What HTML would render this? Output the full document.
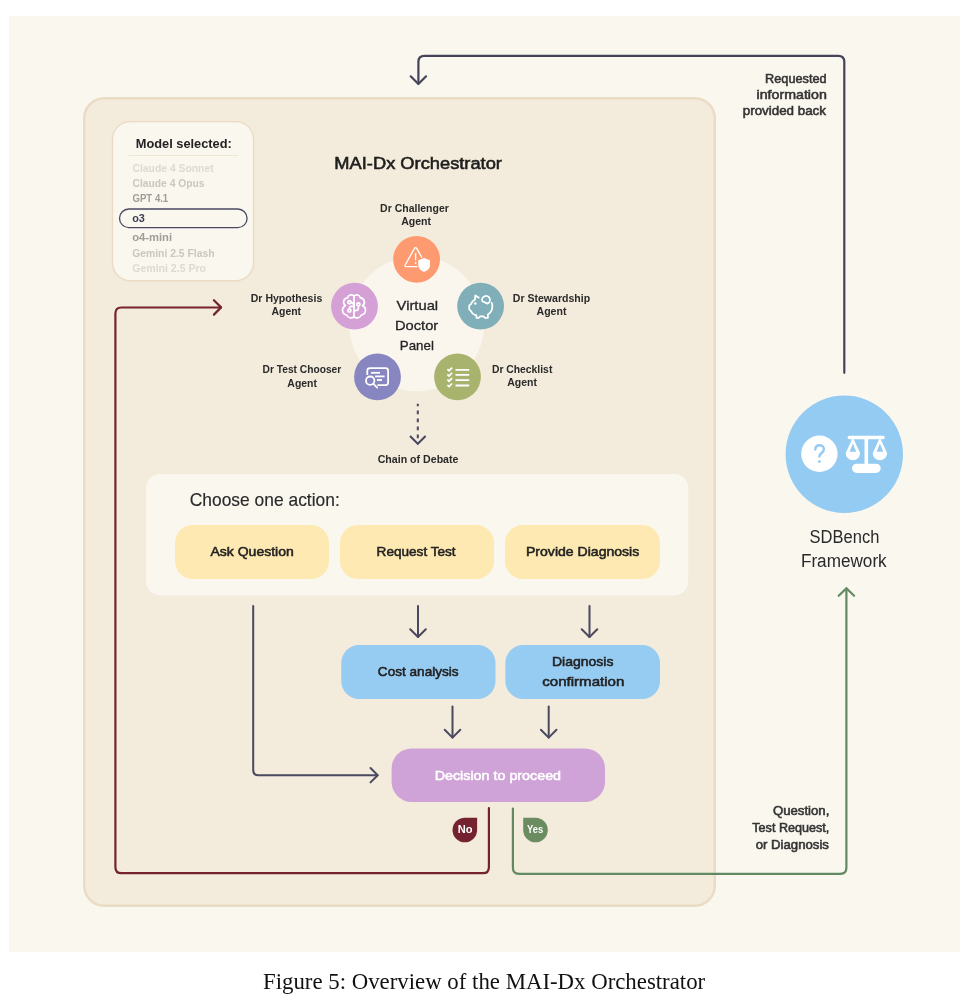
<!DOCTYPE html>
<html>
<head>
<meta charset="utf-8">
<style>
html,body{margin:0;padding:0;background:#ffffff;width:976px;height:1002px;overflow:hidden;}
svg{display:block;will-change:transform;}
.b{font-weight:700;}
.serif{font-family:"Liberation Serif",serif;}
</style>
</head>
<body>
<svg width="976" height="1002" viewBox="0 0 976 1002">
<!-- background -->
<rect x="9" y="16" width="951" height="936" fill="#FAF7EF"/>
<!-- panel -->
<rect x="84.2" y="98.2" width="630.6" height="807.6" rx="20" ry="20" fill="#F3EBDB" stroke="#EADCC4" stroke-width="2.4"/>

<!-- model selected box -->
<rect x="112.5" y="121.6" width="141.1" height="159.1" rx="18" ry="18" fill="#FAF7EF" stroke="#EADCC4" stroke-width="1.4"/>
<line x1="128.8" y1="155.5" x2="238.4" y2="155.5" stroke="#EFE6D6" stroke-width="1"/>
<rect x="119.5" y="209" width="127.6" height="18.6" rx="9.3" ry="9.3" fill="none" stroke="#4A4862" stroke-width="1.3"/>

<!-- title -->

<!-- virtual doctor panel -->
<circle cx="416.7" cy="323.8" r="67.6" fill="#FAF6EE"/>
<circle cx="416.6" cy="259.3" r="23.4" fill="#FE9A70"/>
<circle cx="354.5" cy="306.2" r="23.4" fill="#D4A0D6"/>
<circle cx="480.6" cy="306.1" r="23.4" fill="#80AFBA"/>
<circle cx="377.5" cy="376.9" r="23.4" fill="#8786C0"/>
<circle cx="457.5" cy="376.8" r="23.4" fill="#A8B46E"/>


<!-- icons -->
<circle cx="844.3" cy="454.2" r="58.7" fill="#94CBF2"/>
<circle cx="819.4" cy="453.8" r="18.2" fill="#FFFFFF"/>

<g fill="none" stroke="#FFFFFF" stroke-width="1.35" stroke-linecap="round" stroke-linejoin="round">
<path d="M414.3 248.6 Q415.6 246.6 416.9 248.6 L426 265 Q426.8 266.6 425 266.6 L406.2 266.6 Q404.4 266.6 405.2 265 Z"/>
<path d="M415.6 253.6 V259.8"/>
</g>
<circle cx="415.6" cy="263" r="0.95" fill="#FFFFFF"/>
<path d="M424.1 257.9 L430 260.2 V265 C430 268.6 427.2 270.9 424.1 271.8 C421 270.9 418.3 268.6 418.3 265 V260.2 Z" fill="#FFFFFF" stroke="#FE9A70" stroke-width="2.2" stroke-linejoin="round"/>
<path d="M424.1 257.9 L430 260.2 V265 C430 268.6 427.2 270.9 424.1 271.8 C421 270.9 418.3 268.6 418.3 265 V260.2 Z" fill="#FFFFFF"/>

<g fill="none" stroke="#FFFFFF" stroke-width="1.75" stroke-linecap="round" stroke-linejoin="round">
<path d="M353.99 296.00 A3.63 3.63 0 0 0 347.69 297.99 A4.20 4.20 0 0 0 345.47 305.68 A4.89 4.89 0 0 0 346.61 314.99 A4.95 4.95 0 0 0 353.99 317.05"/>
<path d="M354.01 296.00 A3.63 3.63 0 0 1 360.31 297.99 A4.20 4.20 0 0 1 362.53 305.68 A4.89 4.89 0 0 1 361.39 314.99 A4.95 4.95 0 0 1 354.01 317.05"/>
<path d="M354 296.5 V316.5"/>
<circle cx="349.4" cy="302.2" r="1.55"/>
<path d="M350.9 302.4 Q353.3 302.6 353.8 304.8"/>
<circle cx="349.4" cy="310.6" r="1.55"/>
<path d="M349.4 309.1 V308.4 Q349.4 306.3 351.5 306.3 H353.8"/>
<circle cx="358.4" cy="304.3" r="1.55"/>
<path d="M358.4 305.8 V308 Q358.4 310.5 355.8 310.5 H354.2"/>
</g>

<g fill="none" stroke="#FFFFFF" stroke-width="1.75" stroke-linecap="round" stroke-linejoin="round">
<path d="M478.9 297.7 L475.3 295.4 L474.9 299.6 C473.2 300.6 471.8 302.2 471 304 L469.2 305.6 V309.3 L470.8 310.8 C471.6 312.4 472.8 313.8 474.3 314.6 L476.4 315.4 V317.8 H479 L480.2 316.3 H483.4 L484.7 317.8 H487.9 V314.4 C490.4 312.8 492.1 310.3 492.3 307.2 C492.4 305.3 492.2 303.8 491.7 302.8"/>
<path d="M482.3 301.3 A3.95 3.95 0 1 1 487.5 303.6 Z"/>
</g>
<circle cx="475.3" cy="303.6" r="1.25" fill="#FFFFFF"/>

<g fill="none" stroke="#FFFFFF" stroke-width="1.8" stroke-linecap="butt" stroke-linejoin="round">
<path d="M367.3 375 V370.7 Q367.3 368.2 369.8 368.2 H385.6 Q388.1 368.2 388.1 370.7 V382.6 Q388.1 385.1 385.6 385.1 H377.4"/>
<path d="M371 372.8 H380"/>
<path d="M375.1 376.4 H384.6"/>
<path d="M376.9 380 H382"/>
<circle cx="370.2" cy="380.7" r="4.2"/>
<path d="M373.2 383.7 L377.2 387.7" stroke-linecap="round"/>
</g>

<g fill="none" stroke="#FFFFFF" stroke-width="1.8" stroke-linecap="butt" stroke-linejoin="miter">
<path d="M455.5 369.8 H469.2 M455.5 374.9 H469.2 M455.5 380.1 H469.2 M455.5 385.5 H469.2"/>
<path d="M447.4 369.2 L449 370.8 L452.1 367.7 M447.4 374.4 L449 376 L452.1 372.9 M447.4 379.6 L449 381.2 L452.1 378.1 M447.4 385 L449 386.6 L452.1 383.5" stroke-width="1.7"/>
</g>

<g fill="#94CBF2">
<path d="M815.3 449.6 C815.3 446.9 817.2 445.3 819.6 445.3 C822 445.3 823.9 446.9 823.9 449.3 C823.9 451.2 822.7 452.2 821.3 453.3 C820 454.3 819.4 455.1 819.4 456.6" fill="none" stroke="#94CBF2" stroke-width="2.4" stroke-linecap="round"/>
<circle cx="819.4" cy="461.6" r="1.45"/>
</g>
<g fill="#FFFFFF">
<rect x="847.6" y="435.8" width="37.1" height="3.4" rx="1.7"/>
<rect x="864.5" y="438" width="3.6" height="27"/>
<rect x="852" y="463.7" width="28.7" height="9.2" rx="4.6"/>
<path fill-rule="evenodd" d="M852.9 437.5 L845.7 453.1 A7.2 7.2 0 0 0 860.1 453.1 Z M852.9 443.6 L849.6 451.7 H856.2 Z"/>
<path fill-rule="evenodd" d="M879.9 437.5 L872.7 453.1 A7.2 7.2 0 0 0 887.1 453.1 Z M879.9 443.6 L876.6 451.7 H883.2 Z"/>
</g>

<!-- agent labels -->

<!-- dotted arrow -->
<line x1="417.8" y1="403.7" x2="417.8" y2="439" stroke="#4A4960" stroke-width="2" stroke-dasharray="3.8 4.2" stroke-dashoffset="1.3"/>
<polyline points="410,436 417.8,443.8 425.6,436" fill="none" stroke="#4A4960" stroke-width="2"/>

<!-- choose box -->
<rect x="146.2" y="474" width="542" height="121.4" rx="14" ry="14" fill="#FAF7EF"/>
<rect x="175" y="525" width="154" height="54" rx="18" ry="18" fill="#FDE9B1"/>
<rect x="340" y="525" width="154" height="54" rx="18" ry="18" fill="#FDE9B1"/>
<rect x="505" y="525" width="155" height="54" rx="18" ry="18" fill="#FDE9B1"/>

<!-- blue boxes -->
<rect x="341.3" y="645" width="154.2" height="54" rx="18" ry="18" fill="#96CBF2"/>
<rect x="505.4" y="645" width="154.6" height="54" rx="18" ry="18" fill="#96CBF2"/>

<!-- decision -->
<rect x="391.6" y="748.4" width="213.4" height="53.5" rx="20" ry="20" fill="#CFA3D7"/>

<!-- dark arrows -->
<g fill="none" stroke="#4A4960" stroke-width="2" stroke-linecap="round" stroke-linejoin="round">
<path d="M253.2 606.1 V770 Q253.2 775.2 258.4 775.2 H377.5"/>
<polyline points="370.5,768 377.7,775.2 370.5,782.4"/>
<path d="M418 606.1 V637"/>
<polyline points="410.2,629.2 418,637 425.8,629.2"/>
<path d="M589.5 606.1 V637"/>
<polyline points="581.7,629.2 589.5,637 597.3,629.2"/>
<path d="M452.5 706.5 V737.6"/>
<polyline points="444.7,729.8 452.5,737.6 460.3,729.8"/>
<path d="M548.7 706.5 V737.6"/>
<polyline points="540.9,729.8 548.7,737.6 556.5,729.8"/>
</g>

<!-- top feedback arrow -->
<g fill="none" stroke="#45445A" stroke-width="2.2" stroke-linecap="round" stroke-linejoin="round">
<path d="M844.3 372.8 V61.8 Q844.3 55.8 838.3 55.8 H424.4 Q418.4 55.8 418.4 61.8 V83.5"/>
<polyline points="410.7,76.3 418.4,84 426.1,76.3"/>
</g>

<!-- red no loop -->
<g fill="none" stroke="#74232F" stroke-width="2.2" stroke-linecap="round" stroke-linejoin="round">
<path d="M488.9 808.1 V867.2 Q488.9 873.2 482.9 873.2 H121.4 Q115.4 873.2 115.4 867.2 V313.5 Q115.4 307.5 121.4 307.5 H221"/>
<polyline points="213.9,300.2 221.1,307.4 213.9,314.6"/>
</g>
<!-- green yes loop -->
<g fill="none" stroke="#618A63" stroke-width="2.2" stroke-linecap="round" stroke-linejoin="round">
<path d="M512.9 808.6 V867.8 Q512.9 873.8 518.9 873.8 H840.4 Q846.4 873.8 846.4 867.8 V588.5"/>
<polyline points="838.7,595.8 846.4,588.2 854.1,595.8"/>
</g>

<!-- badges -->
<path d="M477.1 817.7 V830 A12.3 12.3 0 1 1 464.8 817.7 Z" fill="#74222F"/>
<path d="M523.2 817.7 H535.5 A12.3 12.3 0 1 1 523.2 830 Z" fill="#6B8B60"/>

<!-- SDBench -->

<!-- caption -->
<text x="334.35" y="168.7" style='font-family:"Liberation Sans",sans-serif' font-size="17.4" font-weight="400" fill="#1E1E1E" stroke="#1E1E1E" stroke-width="0.6" textLength="167.59" lengthAdjust="spacingAndGlyphs">MAI-Dx Orchestrator</text>
<text x="135.76" y="147.7" style='font-family:"Liberation Sans",sans-serif' font-size="13" font-weight="700" fill="#222222" textLength="96.0" lengthAdjust="spacingAndGlyphs">Model selected:</text>
<text x="132.51" y="171.8" style='font-family:"Liberation Sans",sans-serif' font-size="10.6" font-weight="700" fill="#DEDAD3" textLength="81.09" lengthAdjust="spacingAndGlyphs">Claude 4 Sonnet</text>
<text x="132.51" y="186.9" style='font-family:"Liberation Sans",sans-serif' font-size="10.6" font-weight="700" fill="#CBC7C0" textLength="71.99" lengthAdjust="spacingAndGlyphs">Claude 4 Opus</text>
<text x="132.55" y="202.3" style='font-family:"Liberation Sans",sans-serif' font-size="10.6" font-weight="700" fill="#A09D98" textLength="35.64" lengthAdjust="spacingAndGlyphs">GPT 4.1</text>
<text x="132.19" y="221.9" style='font-family:"Liberation Sans",sans-serif' font-size="10.6" font-weight="700" fill="#3E3C54" textLength="12.7" lengthAdjust="spacingAndGlyphs">o3</text>
<text x="132.17" y="240.7" style='font-family:"Liberation Sans",sans-serif' font-size="10.6" font-weight="700" fill="#A09D98" textLength="39.94" lengthAdjust="spacingAndGlyphs">o4-mini</text>
<text x="132.21" y="256.6" style='font-family:"Liberation Sans",sans-serif' font-size="10.6" font-weight="700" fill="#CBC7C0" textLength="82.38" lengthAdjust="spacingAndGlyphs">Gemini 2.5 Flash</text>
<text x="132.2" y="272.0" style='font-family:"Liberation Sans",sans-serif' font-size="10.6" font-weight="700" fill="#DEDAD3" textLength="73.83" lengthAdjust="spacingAndGlyphs">Gemini 2.5 Pro</text>
<text x="396.57" y="310" style='font-family:"Liberation Sans",sans-serif' font-size="13.6" font-weight="400" fill="#252525" stroke="#252525" stroke-width="0.3" textLength="41.59" lengthAdjust="spacingAndGlyphs">Virtual</text>
<text x="394.92" y="329.75" style='font-family:"Liberation Sans",sans-serif' font-size="13.6" font-weight="400" fill="#252525" stroke="#252525" stroke-width="0.3" textLength="43.33" lengthAdjust="spacingAndGlyphs">Doctor</text>
<text x="399.82" y="349.8" style='font-family:"Liberation Sans",sans-serif' font-size="13.6" font-weight="400" fill="#252525" stroke="#252525" stroke-width="0.3" textLength="34.04" lengthAdjust="spacingAndGlyphs">Panel</text>
<text x="380.14" y="212" style='font-family:"Liberation Sans",sans-serif' font-size="10.4" font-weight="700" fill="#2A2A2A" textLength="68.7" lengthAdjust="spacingAndGlyphs">Dr Challenger</text>
<text x="401.15" y="225" style='font-family:"Liberation Sans",sans-serif' font-size="10.4" font-weight="700" fill="#2A2A2A" textLength="29.89" lengthAdjust="spacingAndGlyphs">Agent</text>
<text x="250.74" y="301.5" style='font-family:"Liberation Sans",sans-serif' font-size="10.4" font-weight="700" fill="#2A2A2A" textLength="71.52" lengthAdjust="spacingAndGlyphs">Dr Hypothesis</text>
<text x="271.55" y="314.6" style='font-family:"Liberation Sans",sans-serif' font-size="10.4" font-weight="700" fill="#2A2A2A" textLength="29.49" lengthAdjust="spacingAndGlyphs">Agent</text>
<text x="512.84" y="301.5" style='font-family:"Liberation Sans",sans-serif' font-size="10.4" font-weight="700" fill="#2A2A2A" textLength="77.24" lengthAdjust="spacingAndGlyphs">Dr Stewardship</text>
<text x="536.55" y="314.5" style='font-family:"Liberation Sans",sans-serif' font-size="10.4" font-weight="700" fill="#2A2A2A" textLength="29.89" lengthAdjust="spacingAndGlyphs">Agent</text>
<text x="262.56" y="373.4" style='font-family:"Liberation Sans",sans-serif' font-size="10.4" font-weight="700" fill="#2A2A2A" textLength="78.7" lengthAdjust="spacingAndGlyphs">Dr Test Chooser</text>
<text x="287.35" y="386.5" style='font-family:"Liberation Sans",sans-serif' font-size="10.4" font-weight="700" fill="#2A2A2A" textLength="29.59" lengthAdjust="spacingAndGlyphs">Agent</text>
<text x="491.95" y="373.4" style='font-family:"Liberation Sans",sans-serif' font-size="10.4" font-weight="700" fill="#2A2A2A" textLength="60.39" lengthAdjust="spacingAndGlyphs">Dr Checklist</text>
<text x="507.15" y="386.3" style='font-family:"Liberation Sans",sans-serif' font-size="10.4" font-weight="700" fill="#2A2A2A" textLength="29.79" lengthAdjust="spacingAndGlyphs">Agent</text>
<text x="377.69" y="462.6" style='font-family:"Liberation Sans",sans-serif' font-size="10.4" font-weight="700" fill="#2A2A2A" textLength="80.76" lengthAdjust="spacingAndGlyphs">Chain of Debate</text>
<text x="189.77" y="506.3" style='font-family:"Liberation Sans",sans-serif' font-size="17.8" font-weight="400" fill="#2A2A2A" stroke="#2A2A2A" stroke-width="0.15" textLength="149.99" lengthAdjust="spacingAndGlyphs">Choose one action:</text>
<text x="210.56" y="556" style='font-family:"Liberation Sans",sans-serif' font-size="13.3" font-weight="400" fill="#222222" stroke="#222222" stroke-width="0.55" textLength="83.16" lengthAdjust="spacingAndGlyphs">Ask Question</text>
<text x="376.63" y="556" style='font-family:"Liberation Sans",sans-serif' font-size="13.3" font-weight="400" fill="#222222" stroke="#222222" stroke-width="0.55" textLength="78.94" lengthAdjust="spacingAndGlyphs">Request Test</text>
<text x="526.01" y="555.9" style='font-family:"Liberation Sans",sans-serif' font-size="13.3" font-weight="400" fill="#222222" stroke="#222222" stroke-width="0.55" textLength="113.27" lengthAdjust="spacingAndGlyphs">Provide Diagnosis</text>
<text x="377.89" y="676" style='font-family:"Liberation Sans",sans-serif' font-size="13.3" font-weight="400" fill="#222222" stroke="#222222" stroke-width="0.55" textLength="80.69" lengthAdjust="spacingAndGlyphs">Cost analysis</text>
<text x="551.91" y="666.4" style='font-family:"Liberation Sans",sans-serif' font-size="13.3" font-weight="400" fill="#222222" stroke="#222222" stroke-width="0.55" textLength="61.54" lengthAdjust="spacingAndGlyphs">Diagnosis</text>
<text x="542.22" y="686.1" style='font-family:"Liberation Sans",sans-serif' font-size="13.3" font-weight="400" fill="#222222" stroke="#222222" stroke-width="0.55" textLength="82.16" lengthAdjust="spacingAndGlyphs">confirmation</text>
<text x="434.69" y="780" style='font-family:"Liberation Sans",sans-serif' font-size="13.3" font-weight="400" fill="#FFFFFF" stroke="#FFFFFF" stroke-width="0.55" textLength="126.38" lengthAdjust="spacingAndGlyphs">Decision to proceed</text>
<text x="765.14" y="82.9" style='font-family:"Liberation Sans",sans-serif' font-size="12.6" font-weight="400" fill="#333333" stroke="#333333" stroke-width="0.55" textLength="61.48" lengthAdjust="spacingAndGlyphs">Requested</text>
<text x="756.54" y="98.8" style='font-family:"Liberation Sans",sans-serif' font-size="12.6" font-weight="400" fill="#333333" stroke="#333333" stroke-width="0.55" textLength="70.3" lengthAdjust="spacingAndGlyphs">information</text>
<text x="742.77" y="114.7" style='font-family:"Liberation Sans",sans-serif' font-size="12.6" font-weight="400" fill="#333333" stroke="#333333" stroke-width="0.55" textLength="83.22" lengthAdjust="spacingAndGlyphs">provided back</text>
<text x="772.93" y="814.9" style='font-family:"Liberation Sans",sans-serif' font-size="12.4" font-weight="400" fill="#333333" stroke="#333333" stroke-width="0.55" textLength="56.41" lengthAdjust="spacingAndGlyphs">Question,</text>
<text x="752.3" y="831.6" style='font-family:"Liberation Sans",sans-serif' font-size="12.4" font-weight="400" fill="#333333" stroke="#333333" stroke-width="0.55" textLength="76.98" lengthAdjust="spacingAndGlyphs">Test Request,</text>
<text x="755.73" y="848.9" style='font-family:"Liberation Sans",sans-serif' font-size="12.4" font-weight="400" fill="#333333" stroke="#333333" stroke-width="0.55" textLength="73.2" lengthAdjust="spacingAndGlyphs">or Diagnosis</text>
<text x="457.77" y="832.8" style='font-family:"Liberation Sans",sans-serif' font-size="10" font-weight="700" fill="#FFFFFF" textLength="14.81" lengthAdjust="spacingAndGlyphs">No</text>
<text x="527.07" y="832.8" style='font-family:"Liberation Sans",sans-serif' font-size="10" font-weight="700" fill="#FFFFFF" textLength="16.17" lengthAdjust="spacingAndGlyphs">Yes</text>
<text x="809.6" y="542.8" style='font-family:"Liberation Sans",sans-serif' font-size="17.6" font-weight="400" fill="#2A2A2A" textLength="69.71" lengthAdjust="spacingAndGlyphs">SDBench</text>
<text x="800.94" y="567.3" style='font-family:"Liberation Sans",sans-serif' font-size="17.6" font-weight="400" fill="#2A2A2A" textLength="85.75" lengthAdjust="spacingAndGlyphs">Framework</text>
<text x="262.99" y="988.8" style='font-family:"Liberation Serif",serif' font-size="22.3" font-weight="400" fill="#111111" textLength="442.2" lengthAdjust="spacingAndGlyphs">Figure 5: Overview of the MAI-Dx Orchestrator</text>
</svg>
</body>
</html>
